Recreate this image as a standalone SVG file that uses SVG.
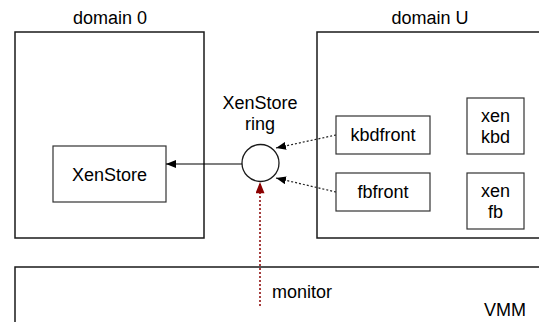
<svg xmlns="http://www.w3.org/2000/svg" width="539" height="322" viewBox="0 0 539 322">
<style>
text{font-family:"Liberation Sans",Arial,sans-serif;font-size:18px;fill:#000;text-anchor:middle}
.box{fill:#fff;stroke:#1a1a1a;stroke-width:1.5}
.ibox{fill:#fff;stroke:#333;stroke-width:1.2}
.solid{stroke:#000;stroke-width:1.2;fill:none}
.dot{stroke:#222;stroke-width:1.2;stroke-dasharray:2,2;fill:none}
.red{stroke:#8b0000;stroke-width:1.5;stroke-dasharray:2,2;fill:none}
</style>
<defs>
<marker id="ah" viewBox="0 0 10 8" refX="10" refY="4" markerWidth="10" markerHeight="8" markerUnits="userSpaceOnUse" orient="auto"><path d="M0,0L10,4L0,8z" fill="#000"/></marker>
<marker id="ahr" viewBox="0 0 10 8" refX="10" refY="4" markerWidth="12" markerHeight="9" markerUnits="userSpaceOnUse" orient="auto"><path d="M0,0L10,4L0,8z" fill="#8b0000"/></marker>
</defs>
<g id="vmm">
<rect class="box" x="15" y="267" width="540" height="70"/>
<text x="505" y="316">VMM</text>
</g>
<g id="domain0">
<text x="110" y="24">domain 0</text>
<rect class="box" x="15" y="32" width="189" height="206"/>
</g>
<g id="xenstore">
<rect class="ibox" x="53" y="146" width="113" height="56"/>
<text x="109.5" y="181">XenStore</text>
</g>
<g id="domainU">
<text x="430" y="24">domain U</text>
<rect class="box" x="317" y="32" width="240" height="206"/>
</g>
<g id="kbdfront">
<rect class="ibox" x="336" y="116" width="94" height="38"/>
<text x="383" y="141">kbdfront</text>
</g>
<g id="fbfront">
<rect class="ibox" x="336" y="173" width="94" height="38"/>
<text x="383" y="198">fbfront</text>
</g>
<g id="xenkbd">
<rect class="ibox" x="467" y="98" width="57" height="56"/>
<text x="495.5" y="122">xen</text>
<text x="495.5" y="143">kbd</text>
</g>
<g id="xenfb">
<rect class="ibox" x="467" y="173" width="57" height="56"/>
<text x="495.5" y="197">xen</text>
<text x="495.5" y="218">fb</text>
</g>
<g id="ring">
<text x="260" y="108.5">XenStore</text>
<text x="260" y="129.5">ring</text>
<circle cx="260.5" cy="163" r="18.5" fill="#fff" stroke="#1a1a1a" stroke-width="1.3"/>
</g>
<g id="connectors">
<line class="solid" x1="242" y1="164" x2="166" y2="164" marker-end="url(#ah)"/>
<line class="dot" x1="336" y1="135" x2="276" y2="148" marker-end="url(#ah)"/>
<line class="dot" x1="336" y1="192" x2="276" y2="178" marker-end="url(#ah)"/>
<line class="red" x1="260" y1="306" x2="260" y2="182" marker-end="url(#ahr)"/>
</g>
<text x="302" y="298">monitor</text>
</svg>
